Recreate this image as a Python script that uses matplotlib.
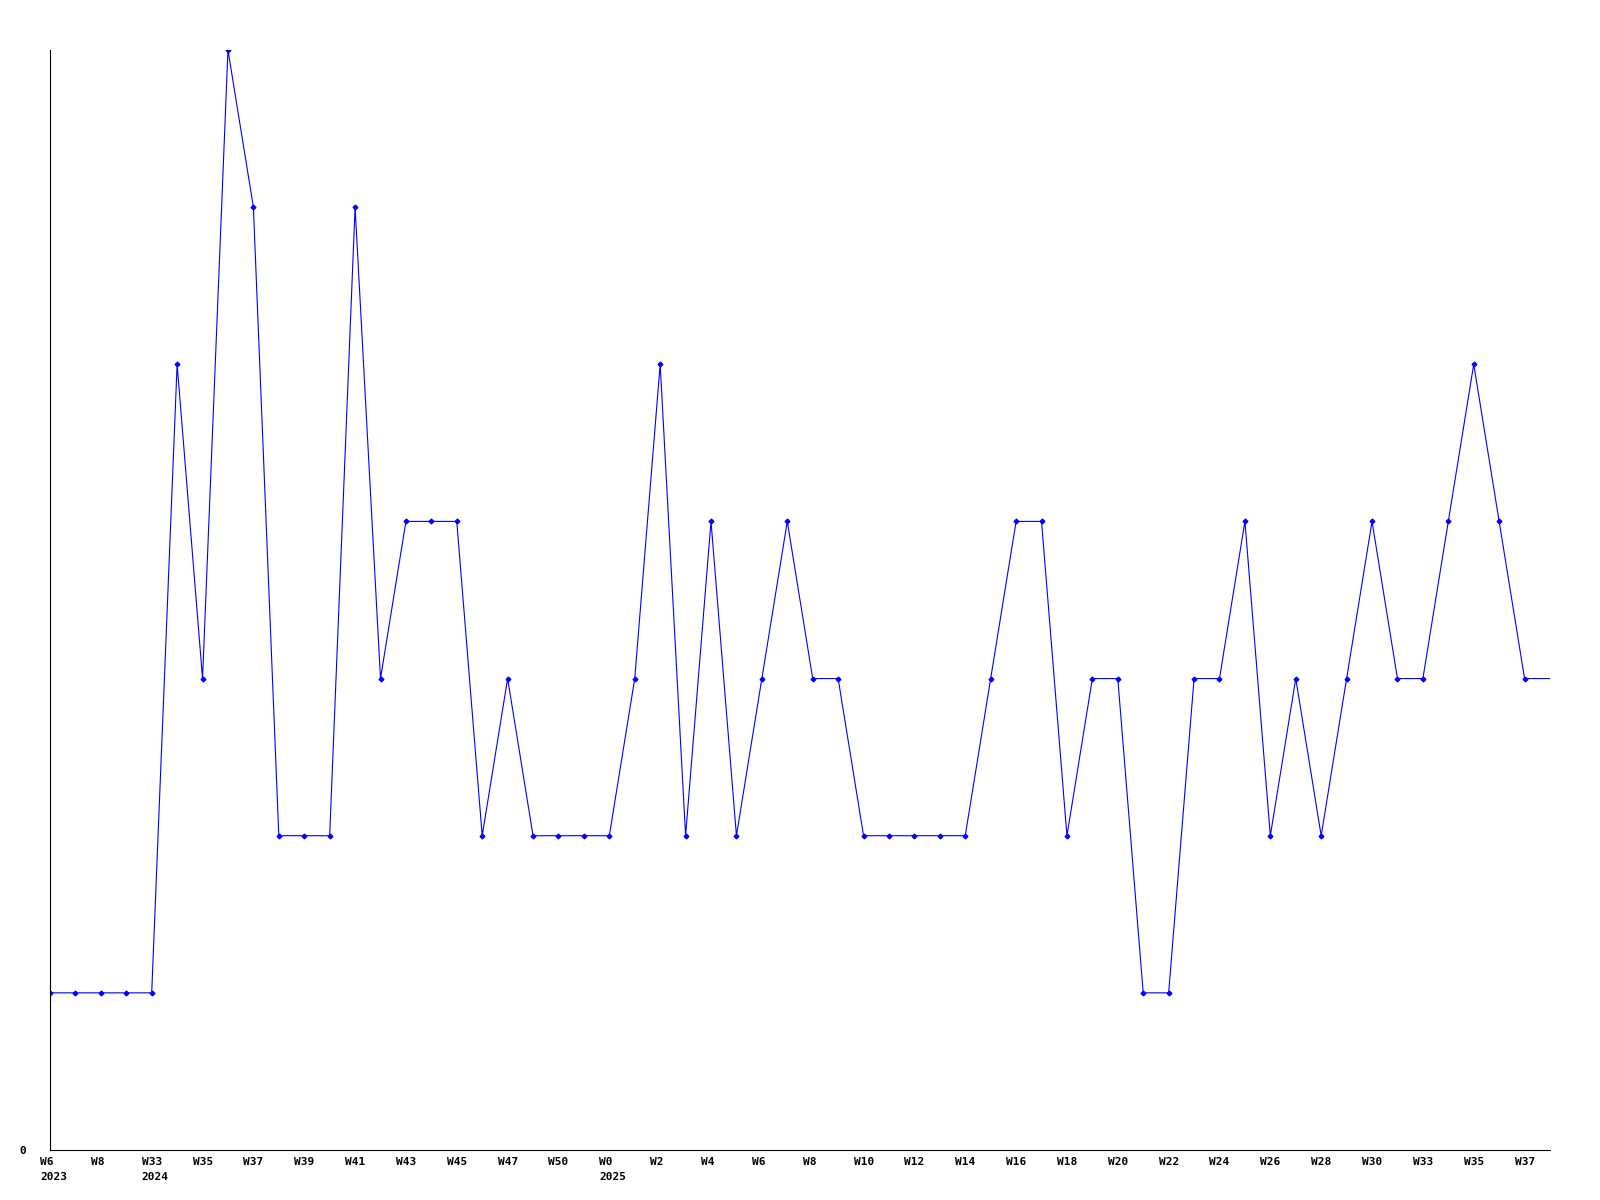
import numpy as np
import matplotlib
matplotlib.use('Agg')
import matplotlib.pyplot as plt
import matplotlib.transforms as mtransforms

# weekly counts, one per point (last one is the open end at the right edge)
values = [1, 1, 1, 1, 1, 5, 3, 7, 6, 2,
          2, 2, 6, 3, 4, 4, 4, 2, 3, 2,
          2, 2, 2, 3, 5, 2, 4, 2, 3, 4,
          3, 3, 2, 2, 2, 2, 2, 3, 4, 4,
          2, 3, 3, 1, 1, 3, 3, 4, 2, 3,
          2, 3, 4, 3, 3, 4, 5, 4, 3, 3]

# labels on every second point
week_labels = ['W6', 'W8', 'W33', 'W35', 'W37', 'W39', 'W41', 'W43', 'W45', 'W47',
               'W50', 'W0', 'W2', 'W4', 'W6', 'W8', 'W10', 'W12', 'W14', 'W16',
               'W18', 'W20', 'W22', 'W24', 'W26', 'W28', 'W30', 'W33', 'W35', 'W37']
year_labels = {0: '2023', 2: '2024', 11: '2025'}

x = np.arange(len(values))

fig = plt.figure(figsize=(16, 12), dpi=100)
ax = fig.add_axes([50/1600, 50/1200, 1500/1600, 1100/1200])

ax.plot(x, values, color='#0000ff', linewidth=0.8, marker='D', markersize=2.4,
        markevery=list(range(len(values) - 1)))

ax.set_xlim(0, len(values) - 1)
ax.set_ylim(0, 7)

for s in ['top', 'right']:
    ax.spines[s].set_visible(False)
for s in ['left', 'bottom']:
    ax.spines[s].set_linewidth(0.8)
    ax.spines[s].set_color('black')

# x labels: left edge 10px left of the point, year on a second row
font = dict(fontfamily='DejaVu Sans Mono', fontweight='bold', fontsize=8)
base = mtransforms.blended_transform_factory(ax.transData, ax.transAxes)
week_tr = base + mtransforms.ScaledTranslation(-10/100, -7/100, fig.dpi_scale_trans)
year_tr = base + mtransforms.ScaledTranslation(-10/100, -22/100, fig.dpi_scale_trans)
ticks = x[::2]
for i, (t, w) in enumerate(zip(ticks, week_labels)):
    ax.text(t, 0, w, transform=week_tr, ha='left', va='top', clip_on=False, **font)
    if i in year_labels:
        ax.text(t, 0, year_labels[i], transform=year_tr, ha='left', va='top',
                clip_on=False, **font)
ax.set_xticks([])

ax.set_yticks([0])
ax.set_yticklabels(['0'], **font)
ax.tick_params(axis='y', length=0, pad=17)

fig.savefig('out.png', dpi=100)
